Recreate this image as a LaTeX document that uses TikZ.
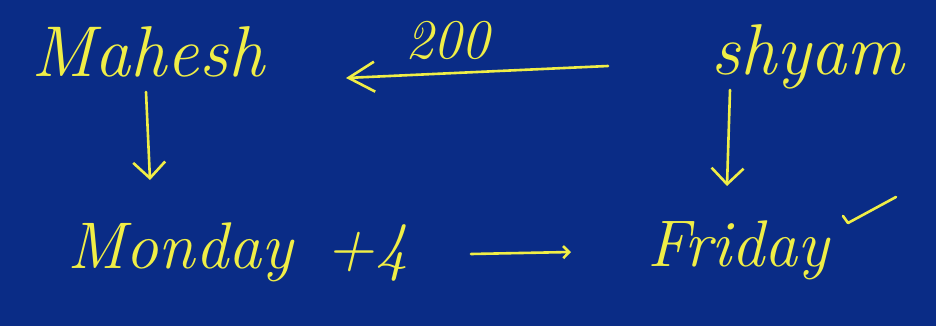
\documentclass[tikz,border=0pt]{standalone}
\usetikzlibrary{arrows.meta}
\definecolor{bg}{RGB}{10,44,134}
\definecolor{ink}{RGB}{240,238,70}
\begin{document}
\begin{tikzpicture}[x=1pt,y=-1pt,
  hand/.style={text=ink,inner sep=0pt,anchor=base,font=\fontsize{72}{72}\selectfont\itshape},
  stroke/.style={draw=ink,line width=2.6pt,line cap=round,line join=round},
  bigarr/.style={stroke,-{Straight Barb[length=26pt,width=30pt,line width=2.6pt]}},
  downarr/.style={stroke,-{Straight Barb[length=16pt,width=32pt,line width=2.6pt]}},
  smallarr/.style={stroke,-{Straight Barb[length=6pt,width=12pt,line width=2.6pt]}}]
\fill[bg] (0,0) rectangle (936,326);
\useasboundingbox (0,0) rectangle (936,326);
% texts
\node[hand] (mahesh) at (148,77) {Mahesh};
\node[hand,font=\fontsize{56}{56}\selectfont\itshape] (amt) at (447,59) {200};
\node[hand] (shyam) at (808,75) {shyam};
\node[hand,font=\fontsize{66}{66}\selectfont\itshape] (monday) at (238,268) {Monday\enspace +4};
\node[hand,font=\fontsize{66}{66}\selectfont\itshape] (friday) at (738,266) {Friday};
% arrow endpoints
\coordinate (topS) at (608,66);
\coordinate (topE) at (346,78);
\coordinate (mS) at (146,92);
\coordinate (mE) at (150,180);
\coordinate (sS) at (730,90);
\coordinate (sE) at (727,186);
\coordinate (lS) at (471,254);
\coordinate (lE) at (571,252);
% connectors
\draw[bigarr] (topS) -- (topE);
\draw[downarr] (mS) -- (mE);
\draw[downarr] (sS) -- (sE);
\draw[smallarr] (lS) -- (lE);
% tick
\coordinate (t0) at (843,216);
\coordinate (t1) at (848,223);
\coordinate (t2) at (896,197);
\draw[stroke] (t0) -- (t1) -- (t2);
\end{tikzpicture}
\end{document}
